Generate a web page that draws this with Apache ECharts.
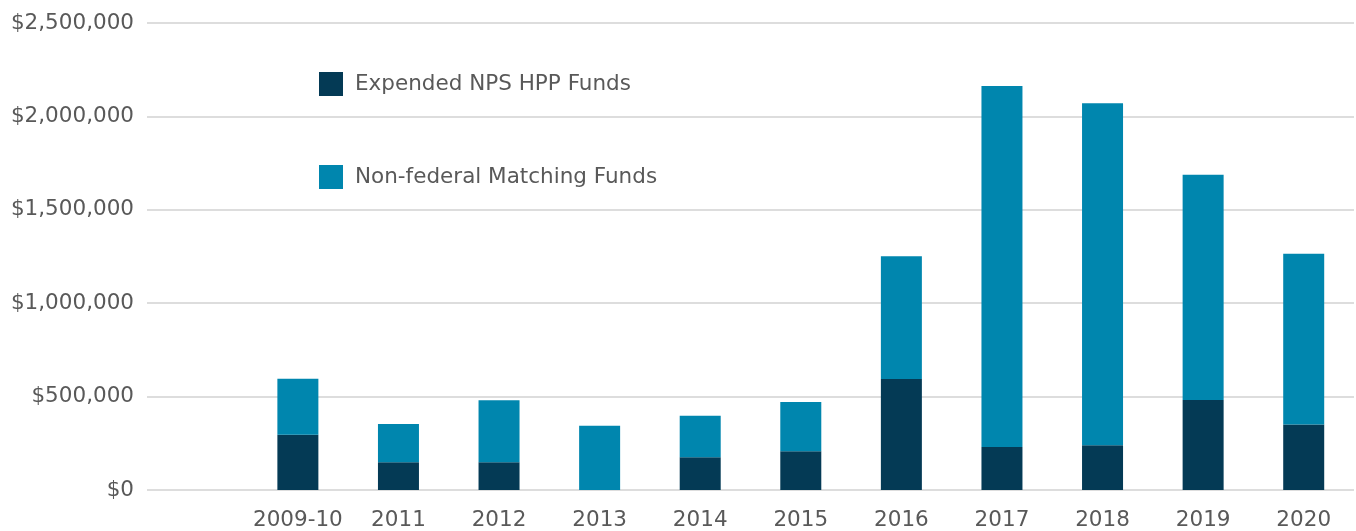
<!DOCTYPE html>
<html>
<head>
<meta charset="utf-8">
<script src="https://cdn.jsdelivr.net/npm/echarts@6/dist/echarts.min.js"></script>
<style>
  html, body { margin: 0; padding: 0; background: #fff; }
  #chart { width: 1356px; height: 531px; }
</style>
</head>
<body>
<div id="chart"></div>
<script>
// first slot is left empty on purpose (blank space before 2009-10)
var years = ['', '2009-10', '2011', '2012', '2013', '2014', '2015', '2016', '2017', '2018', '2019', '2020'];
var npsFunds = [null, 296000, 148000, 148000, 0, 175000, 207000, 594000, 230000, 239000, 482000, 351000];
var matchingFunds = [null, 300000, 205000, 332000, 344000, 223000, 264000, 657000, 1933000, 1831000, 1206000, 914000];

var textColor = '#595959';
var font = '"DejaVu Sans", sans-serif';

var myChart = echarts.init(document.getElementById('chart'));

function money(v) {
  return '$' + v.toString().replace(/\B(?=(\d{3})+(?!\d))/g, ',');
}

var option = {
  backgroundColor: '#ffffff',
  animation: false,
  color: ['#043a55', '#0086ae'],
  legend: {
    orient: 'vertical',
    left: 319,
    top: 72,
    padding: 0,
    itemWidth: 24,
    itemHeight: 24,
    itemGap: 69,
    icon: 'rect',
    textStyle: { color: textColor, fontSize: 21.5, fontFamily: font, padding: [0, 0, 0, 7] },
    data: ['Expended NPS HPP Funds', 'Non-federal Matching Funds']
  },
  grid: { left: 147, right: 2, top: 23, bottom: 41 },
  xAxis: {
    type: 'category',
    data: years,
    axisLine: { show: false },
    axisTick: { show: false },
    axisLabel: { interval: 0, color: textColor, fontSize: 21.5, fontFamily: font, margin: 19 }
  },
  yAxis: {
    type: 'value',
    min: 0,
    max: 2500000,
    interval: 500000,
    axisLine: { show: false },
    axisTick: { show: false },
    splitLine: { lineStyle: { color: '#dddddd', width: 2 } },
    axisLabel: { color: textColor, fontSize: 21.5, fontFamily: font, margin: 13, formatter: money }
  },
  series: [{
    name: 'Expended NPS HPP Funds',
    type: 'bar',
    stack: 'funds',
    barWidth: 41,
    data: npsFunds
  }, {
    name: 'Non-federal Matching Funds',
    type: 'bar',
    stack: 'funds',
    barWidth: 41,
    data: matchingFunds
  }]
};

myChart.setOption(option);
</script>
</body>
</html>
